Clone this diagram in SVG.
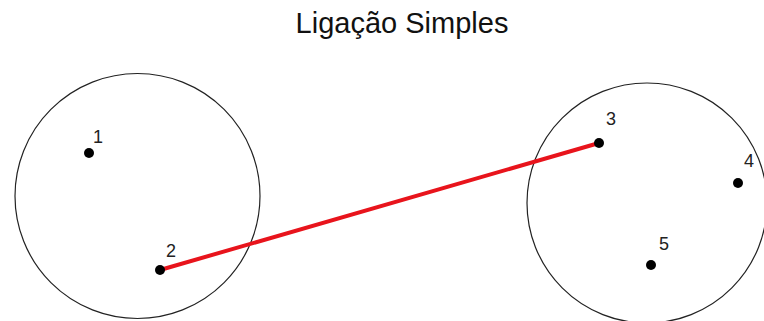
<svg xmlns="http://www.w3.org/2000/svg" width="764" height="321" viewBox="0 0 764 321">
<style>
.grp{fill:none;stroke:#222;stroke-width:1.2}
.pt{fill:#000}
.lbl{font-family:"Liberation Sans",Arial,sans-serif;font-size:18px;fill:#222}
.title{font-family:"Liberation Sans",Arial,sans-serif;font-size:29px;fill:#111;text-anchor:middle}
.edge{stroke:#e8141c;stroke-width:4;stroke-linecap:round}
</style>
<rect width="764" height="321" fill="#fff"/>
<text class="title" x="402" y="33">Ligação Simples</text>
<g id="cluster-left"><circle class="grp" cx="137.5" cy="196" r="122.5"/></g>
<g id="cluster-right"><circle class="grp" cx="647" cy="203" r="120"/></g>
<g id="connectors">
<line class="edge" x1="160" y1="270" x2="599" y2="143"/>
</g>
<g id="node-1"><circle class="pt" cx="89" cy="153" r="5"/><text class="lbl" x="93" y="143">1</text></g>
<g id="node-2"><circle class="pt" cx="160" cy="270" r="5"/><text class="lbl" x="166" y="257">2</text></g>
<g id="node-3"><circle class="pt" cx="599" cy="143" r="5"/><text class="lbl" x="606" y="125">3</text></g>
<g id="node-4"><circle class="pt" cx="738" cy="183" r="5"/><text class="lbl" x="744" y="167">4</text></g>
<g id="node-5"><circle class="pt" cx="651" cy="265" r="5"/><text class="lbl" x="659" y="250">5</text></g>
</svg>
